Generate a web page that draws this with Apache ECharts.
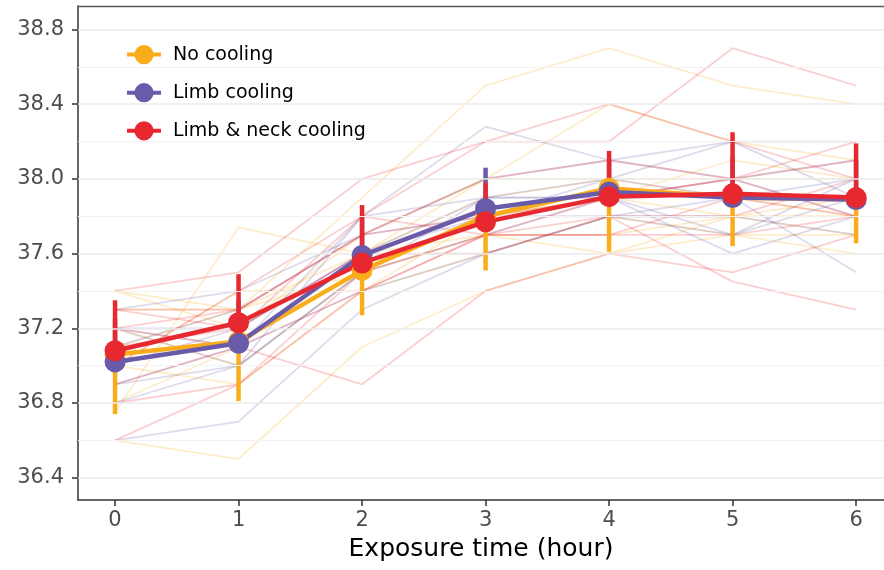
<!DOCTYPE html>
<html>
<head>
<meta charset="utf-8">
<script src="https://cdn.jsdelivr.net/npm/echarts@6/dist/echarts.min.js"></script>
<style>
html,body{margin:0;padding:0;background:#fff;}
#chart{width:884px;height:570px;}
</style>
</head>
<body>
<div id="chart"></div>
<script>
// ---------- data ----------
const hours = [0, 1, 2, 3, 4, 5, 6];
const yTicks = [36.4, 36.8, 37.2, 37.6, 38.0, 38.4, 38.8];
const yMinorTicks = [36.6, 37.0, 37.4, 37.8, 38.2, 38.6];
const groupNames = ['No cooling', 'Limb cooling', 'Limb & neck cooling'];

// group means
const noCoolingMean = [37.06, 37.13, 37.51, 37.80, 37.95, 37.90, 37.89];
const limbMean      = [37.02, 37.12, 37.59, 37.84, 37.93, 37.90, 37.89];
const neckMean      = [37.08, 37.23, 37.55, 37.77, 37.905, 37.92, 37.90];
// error bar ends (orange drawn downward, purple & red drawn upward)
const noCoolingLow  = [36.74, 36.81, 37.27, 37.51, 37.61, 37.64, 37.655];
const limbHigh      = [37.25, 37.35, 37.80, 38.06, 38.10, 38.12, 38.10];
const neckHigh      = [37.35, 37.49, 37.86, 37.98, 38.15, 38.25, 38.19];

// individual trajectories
const noCoolingSubjects = [
  [36.60, 36.50, 37.10, 37.40, 37.60, 37.70, 37.70],
  [36.75, 37.74, 37.60, 38.00, 38.00, 37.90, 37.80],
  [37.30, 37.30, 37.90, 38.50, 38.70, 38.50, 38.40],
  [37.40, 37.20, 37.70, 38.00, 38.40, 38.20, 38.10],
  [37.00, 36.90, 37.40, 37.60, 37.80, 37.70, 37.60],
  [37.20, 37.00, 37.50, 37.80, 37.90, 37.80, 37.90],
  [36.80, 37.10, 37.60, 37.90, 38.00, 38.00, 38.00],
  [37.10, 37.30, 37.60, 37.70, 37.70, 37.80, 37.70],
  [37.00, 37.40, 37.40, 37.80, 37.90, 38.10, 38.00],
  [37.40, 37.30, 37.50, 37.70, 37.60, 37.80, 37.80]
];
const limbSubjects = [
  [36.60, 36.70, 37.30, 37.60, 37.80, 37.90, 37.50],
  [37.20, 37.00, 37.80, 38.28, 38.10, 38.20, 37.90],
  [37.00, 37.20, 37.60, 37.90, 38.00, 38.20, 38.20],
  [37.30, 37.40, 37.70, 38.00, 38.10, 38.00, 38.10],
  [36.80, 37.00, 37.50, 37.70, 37.90, 37.60, 37.80],
  [37.10, 37.30, 37.70, 37.80, 37.80, 37.80, 37.70],
  [36.90, 37.10, 37.40, 37.60, 37.80, 37.70, 37.90],
  [37.20, 37.20, 37.60, 37.80, 38.00, 37.90, 38.00],
  [36.90, 37.00, 37.50, 37.90, 37.90, 38.00, 37.80],
  [37.20, 37.10, 37.80, 37.90, 37.90, 37.70, 38.00]
];
const neckSubjects = [
  [37.40, 37.50, 38.00, 38.20, 38.20, 38.70, 38.50],
  [37.20, 37.10, 36.90, 37.40, 37.60, 37.50, 37.70],
  [36.60, 36.90, 37.40, 37.70, 37.70, 37.70, 37.80],
  [37.30, 37.30, 37.70, 38.00, 38.10, 38.00, 38.10],
  [36.80, 36.90, 37.50, 37.70, 37.90, 38.00, 37.80],
  [37.00, 37.40, 37.80, 38.20, 38.40, 38.20, 38.00],
  [37.10, 37.20, 37.60, 37.60, 37.80, 37.45, 37.30],
  [37.20, 37.30, 37.70, 37.80, 37.90, 38.00, 38.20],
  [36.90, 37.10, 37.40, 37.70, 37.70, 37.90, 37.80],
  [37.30, 37.20, 37.80, 37.70, 37.80, 37.80, 38.00]
];

// ---------- styling ----------
const colors = ['#F9AD1B', '#6A5AAA', '#E7282F'];
const FONT = 'DejaVu Sans';

const pairs = arr => hours.map((h, i) => [h, arr[i]]);
const series = [];

// grid lines (drawn through the y scale)
series.push({
  type: 'line', data: [], z: 1, silent: true,
  markLine: {
    silent: true, symbol: ['none', 'none'], label: {show: false},
    animation: false,
    data: yTicks.map(v => ({yAxis: v, lineStyle: {color: '#ebebeb', width: 1.6, type: 'solid'}}))
      .concat(yMinorTicks.map(v => ({yAxis: v, lineStyle: {color: '#f2f2f2', width: 1.2, type: 'solid'}})))
  }
});

// individual subject lines
[noCoolingSubjects, limbSubjects, neckSubjects].forEach((grp, g) => {
  grp.forEach((subj, k) => {
    series.push({
      name: groupNames[g] + ' subject ' + (k + 1),
      type: 'line', data: pairs(subj), z: 2, silent: true,
      symbol: 'none', animation: false,
      lineStyle: {color: colors[g], width: 1.8, opacity: 0.22}
    });
  });
});

// error bars
function barSeries(name, means, ends, color) {
  return {
    name: name + ' SD', type: 'custom', z: 3, silent: true, animation: false,
    data: hours.map((h, i) => [h, means[i], ends[i]]),
    encode: {x: 0, y: [1, 2]},
    renderItem: function (params, api) {
      const p1 = api.coord([api.value(0), api.value(1)]);
      const p2 = api.coord([api.value(0), api.value(2)]);
      return {type: 'line', shape: {x1: p1[0], y1: p1[1], x2: p2[0], y2: p2[1]},
        style: {stroke: color, lineWidth: 4.5}};
    }
  };
}
series.push(barSeries(groupNames[1], limbMean, limbHigh, colors[1]));
series.push(barSeries(groupNames[2], neckMean, neckHigh, colors[2]));
series.push(barSeries(groupNames[0], noCoolingMean, noCoolingLow, colors[0]));

// mean lines
[noCoolingMean, limbMean, neckMean].forEach((m, g) => {
  series.push({
    name: groupNames[g], type: 'line', data: pairs(m), z: 5,
    symbol: 'circle', symbolSize: 21, showSymbol: true, animation: false,
    lineStyle: {color: colors[g], width: 4.5},
    itemStyle: {color: colors[g]},
    emphasis: {disabled: true}
  });
});

const chart = echarts.init(document.getElementById('chart'), null, {renderer: 'canvas'});
chart.setOption({
  animation: false,
  backgroundColor: '#ffffff',
  grid: {left: 78, right: 0, top: 6, bottom: 70, show: false},
  xAxis: [{
    type: 'value', min: -0.3, max: 6.226, position: 'bottom',
    name: 'Exposure time (hour)', nameLocation: 'middle', nameGap: 37,
    nameTextStyle: {fontFamily: FONT, fontSize: 25, color: '#000000'},
    axisLine: {show: true, onZero: false, lineStyle: {color: '#333333', width: 1.5}},
    axisTick: {show: true, length: 6, lineStyle: {color: '#333333', width: 1.5}, customValues: hours},
    axisLabel: {fontFamily: FONT, fontSize: 21, color: '#4d4d4d', margin: 10, customValues: hours,
      formatter: v => String(v)},
    splitLine: {show: false}
  }, {
    type: 'value', min: -0.3, max: 6.226, position: 'top',
    axisLine: {show: true, onZero: false, lineStyle: {color: '#555555', width: 1.3}},
    axisTick: {show: false}, axisLabel: {show: false}, splitLine: {show: false}
  }],
  yAxis: {
    type: 'value', min: 36.2806, max: 38.926,
    axisLine: {show: true, onZero: false, lineStyle: {color: '#333333', width: 1.5}},
    axisTick: {show: true, length: 6, lineStyle: {color: '#333333', width: 1.5}, customValues: yTicks},
    axisLabel: {fontFamily: FONT, fontSize: 21, color: '#4d4d4d', margin: 14, customValues: yTicks,
      formatter: v => Number(v).toFixed(1)},
    splitLine: {show: false}
  },
  legend: {
    data: groupNames, orient: 'vertical', left: 120, top: 40,
    itemWidth: 34, itemHeight: 24, itemGap: 18.9,
    selectedMode: false,
    lineStyle: {width: 4},
    textStyle: {fontFamily: FONT, fontSize: 19, color: '#000000', padding: [0, 0, 0, 7]}
  },
  graphic: [{
    type: 'rect', z: 3, silent: true,
    shape: {x: 117, y: 34, width: 41, height: 114},
    style: {fill: '#ffffff'}
  }],
  series: series
});
</script>
</body>
</html>
